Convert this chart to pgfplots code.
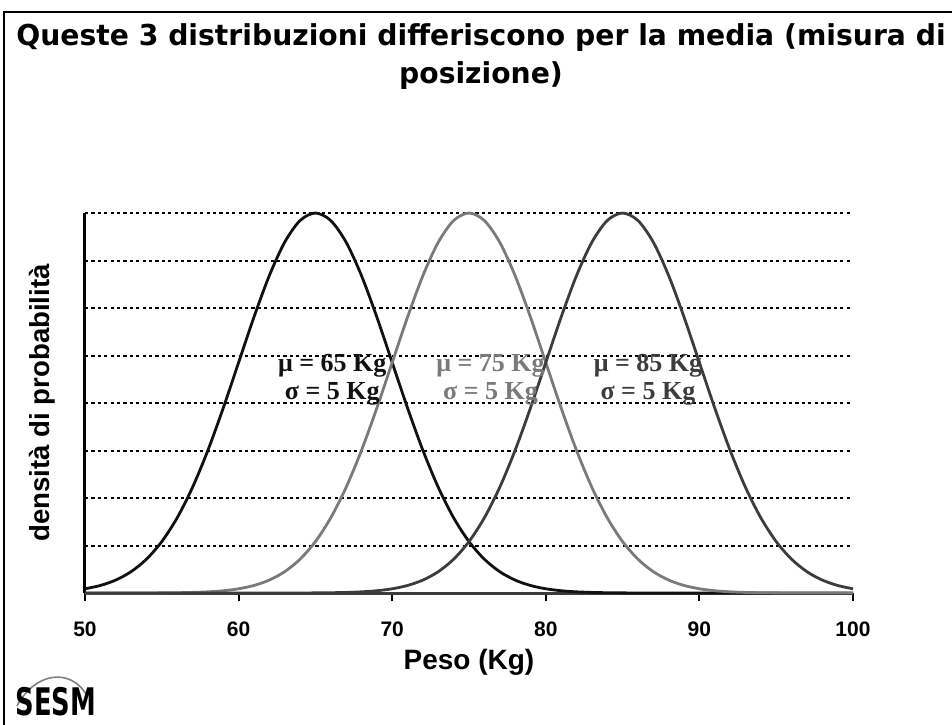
\documentclass[border=0pt]{standalone}
\usepackage{graphicx}
\usepackage{fontspec}
\setmainfont{Liberation Sans}
\newfontfamily\titlefont{DejaVu Sans}
\newfontfamily\serifb{Liberation Serif}
\usepackage{pgfplots}
\pgfplotsset{compat=1.18}
\definecolor{cA}{HTML}{111111}
\definecolor{cB}{HTML}{7A7A7A}
\definecolor{cC}{HTML}{3C3C3C}
\begin{document}
\begin{tikzpicture}[x=0.5pt,y=0.5pt]
\useasboundingbox (0,0) rectangle (952,724);
% frame
\draw[line width=1pt,black] (4,-10) -- (4,712) -- (960,712);
% title
\node[font=\titlefont\bfseries\fontsize{14.4}{17}\selectfont, anchor=base, inner sep=0] at (481,678) {\scalebox{0.98}[1]{Queste 3 distribuzioni differiscono per la media (misura di}};
\node[font=\titlefont\bfseries\fontsize{14.4}{17}\selectfont, anchor=base, inner sep=0] at (481,640) {\scalebox{0.98}[1]{posizione)}};
% logo
\draw[line width=0.8pt, gray] (17,18) .. controls (35,52) and (70,56) .. (86,30);
\node[font=\titlefont\bfseries\fontsize{19}{19}\selectfont, anchor=base west, inner sep=0] at (15,9) {\scalebox{0.68}[1]{SESM}};
\begin{axis}[
  at={(42.5pt,65.5pt)}, anchor=south west, scale only axis,
  width=384pt, height=190pt,
  xmin=50, xmax=100, ymin=0, ymax=8,
  clip=false,
  axis x line*=bottom, axis y line*=left,
  axis line style={-},
  x axis line style={line width=1.5pt, color=cC},
  y axis line style={line width=1.5pt, color=black},
  xtick={50,60,...,100},
  ytick={0,1,...,8}, yticklabels={},
  y tick style={draw=none},
  x tick style={line width=1pt, black},
  tick align=outside, major tick length=4pt,
  ymajorgrids,
  major grid style={black, line width=1pt, dash pattern=on 1.6pt off 1.6pt},
  /pgf/number format/assume math mode=true,
  xticklabel style={font=\bfseries\fontsize{10.5}{12}\selectfont, anchor=north, inner sep=0pt},
  xticklabel shift=10pt,
  xlabel={Peso (Kg)},
  xlabel style={font=\bfseries\fontsize{14}{16}\selectfont, at={(axis description cs:0.5,-0.2026)}, anchor=base, inner sep=0},
  ylabel={densità di probabilità},
  ylabel style={font=\bfseries\fontsize{13.8}{16}\selectfont, at={(axis description cs:-0.0456,0.5)}, anchor=base, inner sep=0},
]
\addplot[cA, line width=1.4pt, smooth] coordinates {
(50,0.0889)(51,0.1587)(52,0.2724)(53,0.4491)(54,0.7114)(55,1.0827)(56,1.5832)(57,2.2243)(58,3.0025)(59,3.8940)(60,4.8522)(61,5.8092)(62,6.6822)(63,7.3850)(64,7.8416)(65,8)(66,7.8416)(67,7.3850)(68,6.6822)(69,5.8092)(70,4.8522)(71,3.8940)(72,3.0025)(73,2.2243)(74,1.5832)(75,1.0827)(76,0.7114)(77,0.4491)(78,0.2724)(79,0.1587)(80,0.0889)(81,0.0478)(82,0.0247)(83,0.0123)(84,0.0059)(85,0.0027)(86,0.0012)(87,0.0005)(88,0.0002)(89,0.0001)(90,0)(95,0)(100,0)};
\addplot[cB, line width=1.4pt, smooth] coordinates {
(50,0)(51,0.0001)(52,0.0002)(53,0.0005)(54,0.0012)(55,0.0027)(56,0.0059)(57,0.0123)(58,0.0247)(59,0.0478)(60,0.0889)(61,0.1587)(62,0.2724)(63,0.4491)(64,0.7114)(65,1.0827)(66,1.5832)(67,2.2243)(68,3.0025)(69,3.8940)(70,4.8522)(71,5.8092)(72,6.6822)(73,7.3850)(74,7.8416)(75,8)(76,7.8416)(77,7.3850)(78,6.6822)(79,5.8092)(80,4.8522)(81,3.8940)(82,3.0025)(83,2.2243)(84,1.5832)(85,1.0827)(86,0.7114)(87,0.4491)(88,0.2724)(89,0.1587)(90,0.0889)(91,0.0478)(92,0.0247)(93,0.0123)(94,0.0059)(95,0.0027)(96,0.0012)(97,0.0005)(98,0.0002)(99,0.0001)(100,0)};
\addplot[cC, line width=1.4pt, smooth] coordinates {
(50,0)(55,0)(60,0)(61,0.0001)(62,0.0002)(63,0.0005)(64,0.0012)(65,0.0027)(66,0.0059)(67,0.0123)(68,0.0247)(69,0.0478)(70,0.0889)(71,0.1587)(72,0.2724)(73,0.4491)(74,0.7114)(75,1.0827)(76,1.5832)(77,2.2243)(78,3.0025)(79,3.8940)(80,4.8522)(81,5.8092)(82,6.6822)(83,7.3850)(84,7.8416)(85,8)(86,7.8416)(87,7.3850)(88,6.6822)(89,5.8092)(90,4.8522)(91,3.8940)(92,3.0025)(93,2.2243)(94,1.5832)(95,1.0827)(96,0.7114)(97,0.4491)(98,0.2724)(99,0.1587)(100,0.0889)};
\node[font=\serifb\bfseries\fontsize{13}{14}\selectfont, text=cA, align=center, inner sep=0] at (axis cs:66.1,4.48) {μ = 65 Kg\\σ = 5 Kg};
\node[font=\serifb\bfseries\fontsize{13}{14}\selectfont, text=cB, align=center, inner sep=0] at (axis cs:76.4,4.48) {μ = 75 Kg\\σ = 5 Kg};
\node[font=\serifb\bfseries\fontsize{13}{14}\selectfont, text=cC, align=center, inner sep=0] at (axis cs:86.65,4.48) {μ = 85 Kg\\σ = 5 Kg};
\end{axis}
\end{tikzpicture}
\end{document}
